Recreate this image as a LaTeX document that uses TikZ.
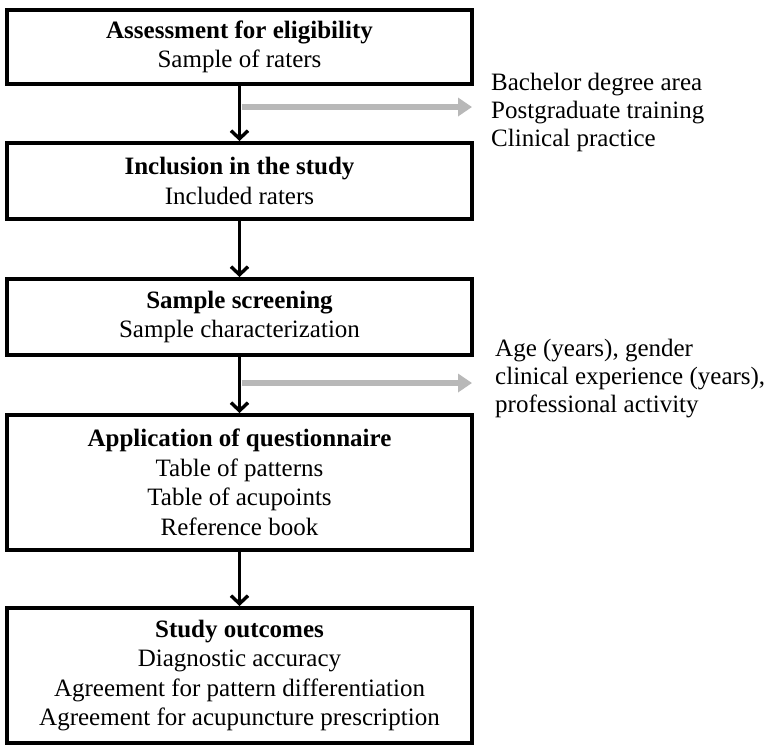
\documentclass[tikz,border=0pt]{standalone}
\usepackage{fontspec}
\setmainfont{Liberation Serif}
\usetikzlibrary{arrows.meta,calc}
\begin{document}
\begin{tikzpicture}[x=1pt,y=-1pt,
  box/.style={draw=black,line width=3.6pt,minimum width=465pt,inner sep=0pt,align=center,
    font=\fontsize{25}{29.5}\selectfont,anchor=north},
  side/.style={align=left,anchor=west,inner sep=0pt,font=\fontsize{25}{28}\selectfont},
  arr/.style={line width=3.4pt,-{Straight Barb[length=8pt,width=17pt,line width=3.4pt]}},
  garr/.style={draw=black!28,line width=5.5pt,-{Triangle[length=14pt,width=18pt]}}]
\useasboundingbox (0,0) rectangle (767,745);
\node[box,minimum height=74pt] (b1) at (239.5,8)
  {\textbf{Assessment for eligibility}\\Sample of raters};
\node[box,minimum height=76pt] (b2) at (239.5,141)
  {\textbf{Inclusion in the study}\\Included raters};
\node[box,minimum height=76pt] (b3) at (239.5,277)
  {\textbf{Sample screening}\\Sample characterization};
\node[box,minimum height=135pt] (b4) at (239.5,413)
  {\textbf{Application of questionnaire}\\Table of patterns\\Table of acupoints\\Reference book};
\node[box,minimum height=135pt] (b5) at (239.5,606)
  {\textbf{Study outcomes}\\Diagnostic accuracy\\Agreement for pattern differentiation\\Agreement for acupuncture prescription};
\draw[arr] (b1.south) -- (b2.north);
\draw[arr] (b2.south) -- (b3.north);
\draw[arr] (b3.south) -- (b4.north);
\draw[arr] (b4.south) -- (b5.north);
\coordinate (g1s) at (241.5,107);
\coordinate (g1e) at (472,107);
\coordinate (g2s) at (241.5,383);
\coordinate (g2e) at (472,383);
\draw[garr] (g1s) -- (g1e);
\draw[garr] (g2s) -- (g2e);
\node[side] (t1) at (491,112) {Bachelor degree area\\Postgraduate training\\Clinical practice};
\node[side] (t2) at (495,379) {Age (years), gender\\clinical experience (years),\\professional activity};
\end{tikzpicture}
\end{document}
